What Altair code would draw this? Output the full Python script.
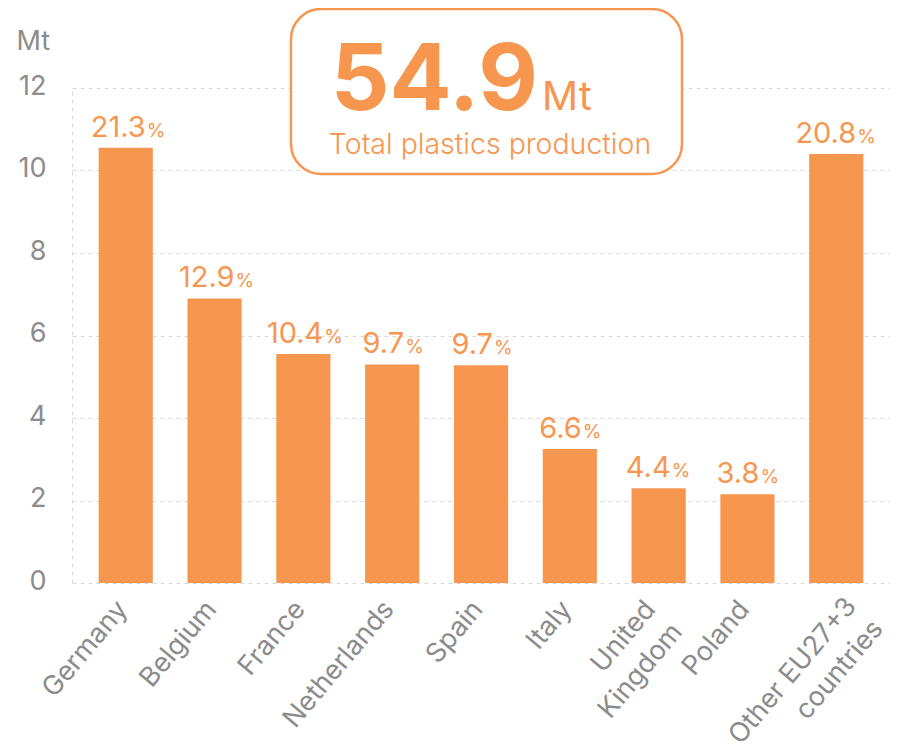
import altair as alt
import pandas as pd

countries = ["Germany", "Belgium", "France", "Netherlands", "Spain", "Italy",
             "United\nKingdom", "Poland", "Other EU27+3\ncountries"]
production_mt = [10.55, 6.9, 5.55, 5.3, 5.28, 3.25, 2.3, 2.15, 10.4]
share_pct = ["21.3", "12.9", "10.4", "9.7", "9.7", "6.6", "4.4", "3.8", "20.8"]
y_ticks = [0, 2, 4, 6, 8, 10, 12]

headline_value = "54.9"
headline_unit = "Mt"
headline_text = "Total plastics production"

ORANGE = "#F7964F"
GRAY = "#8C8C8C"
GRID = "#D9D9D9"
FONT = "Inter"

df = pd.DataFrame({"country": countries, "mt": production_mt, "pct": share_pct})
df["pct_sign"] = "%"

# two-line labels: pad the shorter line so the lines look centred on each other
NB = "\u00a0"
L0 = "split(datum.label, '\\n')[0]"
L1 = "split(datum.label, '\\n')[1]"
M = f"max(length({L0}), length({L1}))"
label_expr = (f"length(split(datum.label, '\\n')) > 1 ? "
              f"[pad({L0}, {M}, '{NB}'), pad({L1}, {M}, '{NB}')] : datum.label")

x_enc = alt.X("country:N", sort=None,
              scale=alt.Scale(paddingInner=0.39, paddingOuter=0.3),
              axis=alt.Axis(title=None, labelAngle=-50, labelAlign="right",
                            labelBaseline="top", labelFontSize=27, labelColor=GRAY,
                            labelFont=FONT,
                            labelPadding={"condition": {"test": "indexof(datum.value, 'EU27') >= 0",
                                                        "value": 10},
                                          "value": 13},
                            labelOffset={"condition": [
                                {"test": "indexof(datum.value, 'EU27') >= 0", "value": 5},
                                {"test": "indexof(datum.value, 'United') >= 0", "value": -18}],
                                "value": -13},
                            labelLineHeight=35, labelLimit=400,
                            labelExpr=label_expr,
                            domain=False, ticks=False, grid=False))
y_enc = alt.Y("mt:Q", scale=alt.Scale(domain=[0, 12], nice=False),
              axis=alt.Axis(values=y_ticks, title="Mt", titleAngle=0, titleAlign="left",
                            titleBaseline="alphabetic", titleX=-56, titleY=-39,
                            titleFontSize=27, titleFontWeight="normal", titleColor=GRAY,
                            titleFont=FONT,
                            labelFontSize=27, labelColor=GRAY, labelFont=FONT,
                            labelPadding=26, labelOffset=-2, ticks=False,
                            domain=True, domainColor=GRID, domainDash=[4, 4],
                            grid=True, gridColor=GRID, gridDash=[4, 4], gridWidth=1))

base = alt.Chart(df).encode(x=x_enc, y=y_enc)

bars = base.mark_bar(color=ORANGE)


def labels(filter_expr, dx):
    num = base.transform_filter(filter_expr).mark_text(
        align="right", baseline="alphabetic", dx=dx, dy=-11,
        fontSize=29, font=FONT, color=ORANGE).encode(text="pct:N")
    sign = base.transform_filter(filter_expr).mark_text(
        align="left", baseline="alphabetic", dx=dx + 1, dy=-11,
        fontSize=19, font=FONT, color=ORANGE).encode(text="pct_sign:N")
    return num + sign


lbl4 = labels("length(datum.pct) >= 4", 20)
lbl3 = labels("length(datum.pct) < 4", 12)

box_df = pd.DataFrame({"value": [headline_value], "unit": [headline_unit],
                       "text": [headline_text]})
box = alt.Chart(box_df).mark_rect(
    cornerRadius=30, fill="white", stroke=ORANGE, strokeWidth=2.5
).encode(x=alt.value(219), x2=alt.value(610), y=alt.value(-79), y2=alt.value(86))

big = alt.Chart(box_df).mark_text(
    align="right", baseline="alphabetic", fontSize=92, fontWeight="bold",
    font=FONT, color=ORANGE
).encode(text="value:N", x=alt.value(466), y=alt.value(22))

unit = alt.Chart(box_df).mark_text(
    align="left", baseline="alphabetic", fontSize=40, font=FONT, color=ORANGE
).encode(text="unit:N", x=alt.value(470), y=alt.value(22))

sub = alt.Chart(box_df).mark_text(
    align="center", baseline="alphabetic", fontSize=28.5, fontWeight=300,
    font=FONT, color=ORANGE
).encode(text="text:N", x=alt.value(418), y=alt.value(66))

chart = alt.layer(bars, lbl4, lbl3, box, big, unit, sub).properties(
    width=818, height=495,
    autosize=alt.AutoSizeParams(type="none"),
    padding={"left": 64, "top": 80, "right": 0, "bottom": 168},
).configure_view(stroke=None)

chart.save("out.html", embed_options={"renderer": "svg", "actions": False})
